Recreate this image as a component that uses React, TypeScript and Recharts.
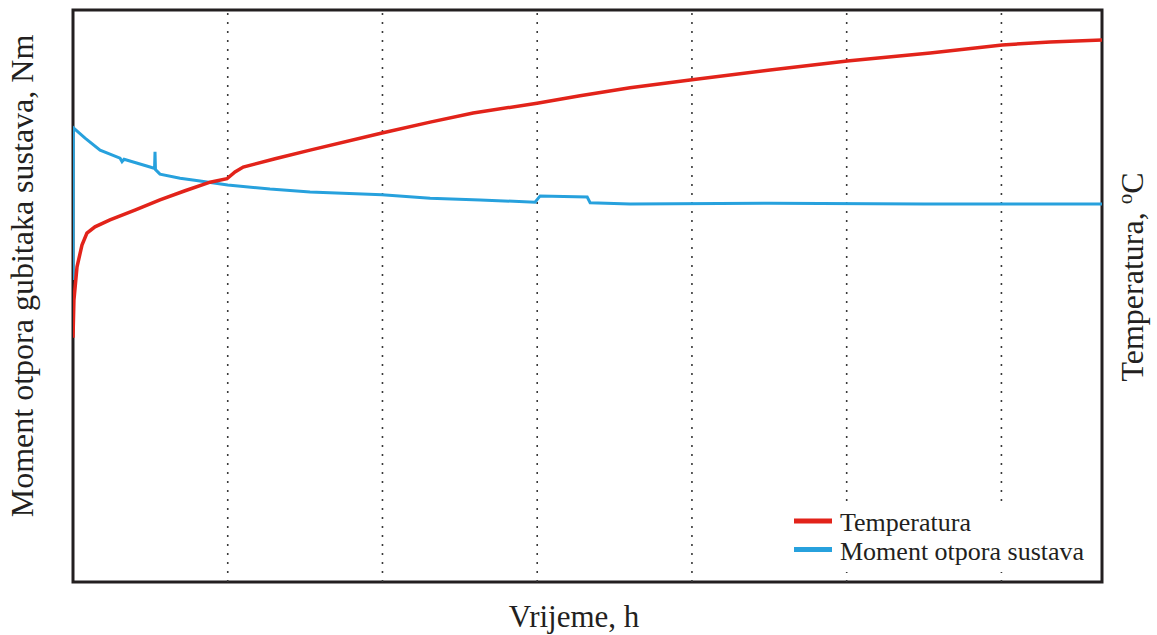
import React from 'react';
import { LineChart, Line, XAxis, YAxis, ReferenceLine, ReferenceArea, Legend } from 'recharts';

// Time in hours (x axis)
const tempTime = [0, 0.006, 0.026, 0.058, 0.09, 0.142, 0.239, 0.4, 0.562, 0.724, 0.886, 0.995, 1.047, 1.1, 1.306, 1.532, 1.997, 2.308, 2.586, 2.999, 3.277, 3.6, 4.0, 4.505, 5.003, 5.54, 6.005, 6.315, 6.65];
// Temperature (relative scale of right axis, 0-100)
const tempValue = [42.7, 49.3, 55.1, 58.9, 61.0, 62.1, 63.3, 65.0, 66.8, 68.4, 69.9, 70.5, 71.7, 72.55, 74.0, 75.5, 78.5, 80.4, 82.0, 83.7, 85.0, 86.4, 87.8, 89.5, 91.1, 92.5, 93.9, 94.4, 94.75];

const momentTime = [0, 0.002, 0.078, 0.175, 0.304, 0.317, 0.33, 0.498, 0.527, 0.53, 0.533, 0.562, 0.692, 0.821, 1.0, 1.273, 1.532, 1.997, 2.308, 2.631, 2.986, 3.019, 3.323, 3.342, 3.6, 4.5, 5.5, 6.65];
// Moment (relative scale of left axis, 0-100)
const momentValue = [52.8, 79.4, 77.6, 75.5, 74.1, 73.5, 73.9, 72.55, 72.3, 75.2, 72.1, 71.3, 70.6, 70.1, 69.4, 68.7, 68.2, 67.7, 67.1, 66.8, 66.4, 67.5, 67.3, 66.3, 66.1, 66.2, 66.1, 66.1];

const gridHours = [1, 2, 3, 4, 5, 6];
const seriesNames = ['Temperatura', 'Moment otpora sustava'];
const xLabel = 'Vrijeme, h';
const leftLabel = 'Moment otpora gubitaka sustava, Nm';
const rightLabelMain = 'Temperatura, ';
const rightLabelSup = 'o';
const rightLabelUnit = 'C';

const X_MAX = 6.65;
const RED = '#e2231a';
const BLUE = '#27a1dd';
const FRAME = '#231f20';
const FONT = '"Liberation Serif", "Times New Roman", serif';

const tempData = tempTime.map((t, i) => ({ t, temp: tempValue[i] }));
const momentData = momentTime.map((t, i) => ({ t, moment: momentValue[i] }));

const renderLegend = (props: any) => {
  const payload = (props && props.payload) || [];
  const ordered = seriesNames
    .map((name) => payload.find((p: any) => p.value === name))
    .filter(Boolean);
  return (
    <svg width={305} height={69} style={{ display: 'block' }}>
      <rect x={46} y={0} width={255} height={69} fill="#fff" />
      {ordered.map((entry: any, i: number) => (
        <g key={i}>
          <rect x={4} y={15.5 + i * 28.5} width={38} height={5} fill={entry.color} />
          <text x={50} y={28 + i * 28.5} fontFamily={FONT} fontSize={26} fill="#231f20">
            {entry.value}
          </text>
        </g>
      ))}
    </svg>
  );
};

export default function App() {
  return (
    <div style={{ position: 'absolute', left: 0, top: 0, width: 1157, height: 635, background: '#fff' }}>
      <LineChart
        width={1157}
        height={635}
        margin={{ top: 10, right: 55, bottom: 53, left: 73 }}
      >
        <XAxis dataKey="t" type="number" domain={[0, X_MAX]} hide allowDataOverflow />
        <YAxis yAxisId="left" type="number" domain={[0, 100]} hide />
        <YAxis yAxisId="right" orientation="right" type="number" domain={[0, 100]} hide />
        {gridHours.map((h) => (
          <ReferenceLine
            key={h}
            x={h}
            yAxisId="left"
            stroke="#3a3a3a"
            strokeWidth={1.6}
            strokeDasharray="2 7"
          />
        ))}
        <Line
          yAxisId="left"
          data={momentData}
          dataKey="moment"
          name={seriesNames[1]}
          stroke={BLUE}
          strokeWidth={3}
          dot={false}
          type="linear"
          isAnimationActive={false}
        />
        <Line
          yAxisId="right"
          data={tempData}
          dataKey="temp"
          name={seriesNames[0]}
          stroke={RED}
          strokeWidth={3.5}
          dot={false}
          type="linear"
          isAnimationActive={false}
        />
        <ReferenceArea
          yAxisId="left"
          x1={0}
          x2={X_MAX}
          y1={0}
          y2={100}
          fill="none"
          fillOpacity={0}
          stroke={FRAME}
          strokeWidth={3}
          ifOverflow="visible"
        />
        <Legend
          layout="vertical"
          align="center"
          verticalAlign="middle"
          content={renderLegend}
          wrapperStyle={{ left: 790, top: 503, width: 305, height: 69 }}
        />
      </LineChart>
      <svg
        width={1157}
        height={635}
        style={{ position: 'absolute', left: 0, top: 0, pointerEvents: 'none' }}
      >
        <text
          x={33}
          y={276}
          transform="rotate(-90, 33, 276)"
          textAnchor="middle"
          fontFamily={FONT}
          fontSize={32}
          fill="#231f20"
        >
          {leftLabel}
        </text>
        <text
          x={1143}
          y={277}
          transform="rotate(-90, 1143, 277)"
          textAnchor="middle"
          fontFamily={FONT}
          fontSize={32}
          fill="#231f20"
        >
          {rightLabelMain}
          <tspan fontSize={21} dy={-11}>{rightLabelSup}</tspan>
          <tspan dy={11}>{rightLabelUnit}</tspan>
        </text>
        <text
          x={574}
          y={627}
          textAnchor="middle"
          fontFamily={FONT}
          fontSize={31}
          fill="#231f20"
        >
          {xLabel}
        </text>
      </svg>
    </div>
  );
}
